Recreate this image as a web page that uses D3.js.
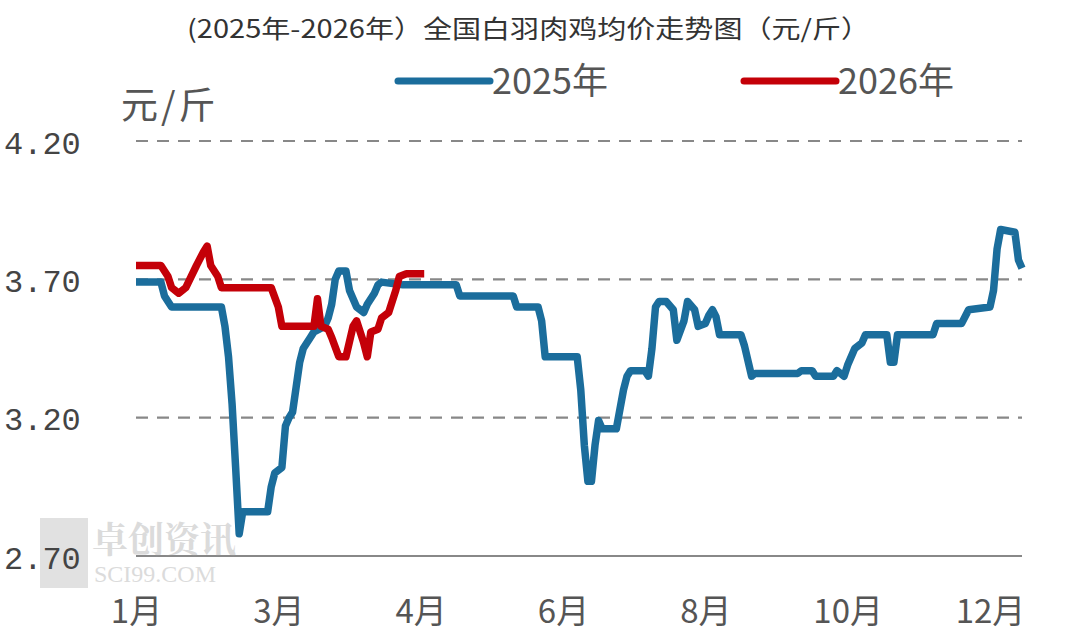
<!DOCTYPE html>
<html>
<head>
<meta charset="utf-8">
<script src="https://cdn.jsdelivr.net/npm/d3@7"></script>
<style>
  body { margin: 0; background: #fff; }
  svg { display: block; }
</style>
</head>
<body>
<div id="chart"></div>
<script>
// white-feather broiler average price, yuan per jin
// x is the trading-day index, labels every 40 points
const title = "(2025年-2026年）全国白羽肉鸡均价走势图（元/斤）";
const unit = "元/斤";
const seriesNames = ["2025年", "2026年"];
const monthLabels = ["1月", "3月", "4月", "6月", "8月", "10月", "12月"];
const yTicks = [2.70, 3.20, 3.70, 4.20];

const price2025 = [
  [0,3.69],[7,3.69],[8,3.64],[10,3.60],[24,3.60],[25,3.53],[26,3.42],[27,3.25],[28,3.02],[29,2.78],
  [30,2.86],[37,2.86],[38,2.95],[39,3.00],[41,3.02],[42,3.17],[43,3.20],[44,3.22],[45,3.31],[46,3.40],
  [47,3.45],[49,3.49],[50,3.51],[53,3.53],[54,3.56],[55,3.61],[56,3.70],[57,3.73],[59,3.73],[60,3.66],
  [62,3.60],[64,3.58],[65,3.61],[67,3.65],[68,3.68],[69,3.69],[75,3.68],[90,3.68],[91,3.64],[106,3.64],
  [107,3.60],[113,3.60],[114,3.55],[115,3.42],[124,3.42],[125,3.30],[126,3.10],[127,2.97],[128,2.97],[129,3.10],
  [130,3.19],[131,3.16],[135,3.16],[137,3.30],[138,3.35],[139,3.37],[143,3.37],[144,3.35],[145,3.45],[146,3.60],
  [147,3.62],[149,3.62],[151,3.59],[152,3.48],[154,3.55],[155,3.62],[157,3.59],[158,3.53],[160,3.54],[161,3.57],
  [162,3.59],[163,3.565],[164,3.50],[170,3.50],[171,3.46],[173,3.35],[174,3.36],[186,3.36],[187,3.37],[190,3.37],
  [191,3.35],[196,3.35],[197,3.37],[199,3.35],[200,3.39],[202,3.45],[204,3.47],[205,3.50],[211,3.50],[212,3.40],
  [213,3.40],[214,3.50],[224,3.50],[225,3.54],[232,3.54],[234,3.59],[240,3.60],[241,3.66],[242,3.81],[243,3.88],
  [247,3.87],[248,3.77],[249,3.74]
];

const price2026 = [
  [0,3.75],[7,3.75],[9,3.71],[10,3.67],[12,3.65],[14,3.67],[17,3.75],[19,3.80],[20,3.82],[21,3.75],
  [23,3.71],[24,3.67],[38,3.67],[40,3.60],[41,3.53],[50,3.53],[51,3.63],[52,3.53],[54,3.52],[55,3.49],
  [57,3.42],[59,3.42],[61,3.53],[62,3.55],[64,3.47],[65,3.42],[66,3.51],[68,3.52],[69,3.56],[71,3.58],
  [73,3.66],[74,3.71],[76,3.72],[81,3.72]
];

const colors = ["#1b6d9c", "#c40008"];
const width = 1080, height = 638;
const margin = { left: 136, right: 58, top: 141, bottom: 82 };

const svg = d3.select("#chart").append("svg")
  .attr("width", width)
  .attr("height", height)
  .attr("viewBox", [0, 0, width, height]);

const x = d3.scaleLinear().domain([0, 249]).range([margin.left, width - margin.right]);
const y = d3.scaleLinear().domain([2.70, 4.20]).range([height - margin.bottom, margin.top]);

// title
svg.append("text")
  .attr("x", 187).attr("y", 38)
  .attr("textLength", 683)
  .attr("lengthAdjust", "spacingAndGlyphs")
  .attr("font-family", "'Noto Sans CJK SC', sans-serif")
  .attr("font-size", 25)
  .attr("fill", "#333")
  .text(title);

// unit
svg.append("text")
  .attr("x", 121).attr("y", 119)
  .attr("font-family", "'Noto Sans CJK SC', sans-serif")
  .attr("font-size", 37)
  .attr("letter-spacing", 3)
  .attr("fill", "#555")
  .text(unit);

// legend
const legend = svg.append("g");
[[398, 0], [744, 1]].forEach(([lx, k]) => {
  legend.append("line")
    .attr("x1", lx).attr("x2", lx + 92)
    .attr("y1", 81).attr("y2", 81)
    .attr("stroke", colors[k]).attr("stroke-width", 7)
    .attr("stroke-linecap", "round");
  legend.append("text")
    .attr("x", lx + 94).attr("y", 94)
    .attr("font-family", "'Noto Sans CJK SC', sans-serif")
    .attr("font-size", 36)
    .attr("fill", "#555")
    .text(seriesNames[k]);
});

// grid
svg.append("g")
  .selectAll("line")
  .data(yTicks)
  .join("line")
  .attr("x1", margin.left).attr("x2", width - margin.right)
  .attr("y1", d => y(d)).attr("y2", d => y(d))
  .attr("stroke", "#888")
  .attr("stroke-width", d => d === 2.70 ? 2 : 2.2)
  .attr("stroke-dasharray", d => d === 2.70 ? null : "12,9");

// watermark
const wm = svg.append("g").attr("opacity", 0.35);
wm.append("rect").attr("x", 40).attr("y", 518).attr("width", 48).attr("height", 70).attr("fill", "#aaa");
wm.append("text").attr("x", 92).attr("y", 553)
  .attr("font-family", "'Noto Serif CJK SC', 'Noto Sans CJK SC', serif")
  .attr("font-size", 36).attr("font-weight", "bold").attr("fill", "#999")
  .text("卓创资讯");
wm.append("text").attr("x", 94).attr("y", 582)
  .attr("font-family", "'Liberation Serif', serif")
  .attr("font-size", 24).attr("fill", "#999")
  .text("SCI99.COM");

// y axis labels
const yAxis = svg.append("g")
  .attr("transform", `translate(${margin.left},0)`)
  .call(d3.axisLeft(y).tickValues(yTicks).tickSize(0).tickFormat(d3.format(".2f")));
yAxis.select(".domain").remove();
yAxis.selectAll("text")
  .attr("x", 4 - margin.left)
  .attr("dy", "0.38em")
  .attr("text-anchor", "start")
  .attr("font-family", "'Liberation Mono', monospace")
  .attr("font-size", 32)
  .attr("fill", "#444");

// x axis labels
const xAxis = svg.append("g")
  .attr("transform", `translate(0,${height - margin.bottom})`)
  .call(d3.axisBottom(x)
    .tickValues(monthLabels.map((d, i) => i * 40))
    .tickSize(0)
    .tickFormat((d, i) => monthLabels[i]));
xAxis.select(".domain").remove();
xAxis.selectAll("text")
  .attr("y", 44)
  .attr("font-family", "'Noto Sans CJK SC', sans-serif")
  .attr("font-size", 33)
  .attr("fill", "#555");

// lines
const line = d3.line().x(d => x(d[0])).y(d => y(d[1]));
[price2025, price2026].forEach((data, k) => {
  svg.append("path")
    .datum(data)
    .attr("fill", "none")
    .attr("stroke", colors[k])
    .attr("stroke-width", 7.5)
    .attr("stroke-linejoin", "round")
    .attr("d", line);
});
</script>
</body>
</html>
